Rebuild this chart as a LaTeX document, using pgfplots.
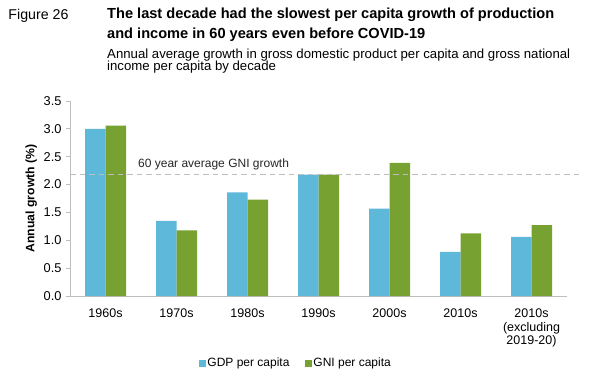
\documentclass[border=0pt]{standalone}
\usepackage{fontspec}
\setmainfont{Liberation Sans}
\usepackage{pgfplots}
\pgfplotsset{compat=1.18}
\definecolor{gdpblue}{RGB}{94,184,218}
\definecolor{gnigreen}{RGB}{119,162,49}
\definecolor{axgray}{RGB}{190,190,190}
\begin{document}
\begin{tikzpicture}[x=1bp,y=1bp]
\path (0,0) rectangle (611,384);
% titles
\node[inner sep=0pt,anchor=base west,font=\fontsize{14.2bp}{16bp}\selectfont] at (8.3,364.5) {Figure 26};
\node[inner sep=0pt,anchor=base west,font=\fontsize{14.6bp}{16bp}\selectfont\bfseries] at (107,365.7) {The last decade had the slowest per capita growth of production};
\node[inner sep=0pt,anchor=base west,font=\fontsize{14.6bp}{16bp}\selectfont\bfseries] at (107,346) {and income in 60 years even before COVID-19};
\node[inner sep=0pt,anchor=base west,font=\fontsize{13.2bp}{13bp}\selectfont] at (107,325.7) {Annual average growth in gross domestic product per capita and gross national};
\node[inner sep=0pt,anchor=base west,font=\fontsize{13.2bp}{13bp}\selectfont] at (107,313.3) {income per capita by decade};
\begin{axis}[
  at={(70bp,88bp)}, anchor=south west,
  scale only axis, width=497bp, height=195bp,
  xmin=-0.5, xmax=6.5, ymin=0, ymax=3.5,
  ybar=0pt, bar width=20.5bp,
  axis x line*=bottom, axis y line*=left,
  axis line style={axgray, line width=0.8pt},
  every tick/.style={axgray, line width=0.8pt},
  ytick={0,0.5,...,3.5},
  xtick={0,...,6},
  xticklabels={1960s,1970s,1980s,1990s,2000s,2010s,{2010s\\(excluding\\2019-20)}},
  xticklabel style={align=center, font=\fontsize{12.5bp}{13.5bp}\selectfont, yshift=-5bp},
  major x tick style={draw=none},
  tick align=outside, ytick pos=left, major tick length=4.5bp,
  yticklabel style={font=\fontsize{12.8bp}{14bp}\selectfont, xshift=-0.5bp, /pgf/number format/.cd, fixed, fixed zerofill, precision=1, assume math mode=true},
  ylabel={\bfseries Annual growth (\%)},
  ylabel style={font=\fontsize{12.2bp}{14bp}\selectfont},
  clip=false,
  legend columns=2,
  legend style={draw=none, at={(0.454,-0.344)}, anchor=center, font=\fontsize{12bp}{14bp}\selectfont,
    nodes={inner xsep=1.5bp},
    /tikz/every even column/.append style={column sep=14bp}},
  legend image code/.code={\fill[#1] (0bp,-3.5bp) rectangle (7bp,3.5bp);},
]
\addplot[fill=gdpblue, draw=none] coordinates {(0,3.00) (1,1.35) (2,1.86) (3,2.18) (4,1.57) (5,0.79) (6,1.06)};
\addplot[fill=gnigreen, draw=none] coordinates {(0,3.06) (1,1.18) (2,1.73) (3,2.18) (4,2.39) (5,1.125) (6,1.27)};
\legend{GDP per capita, GNI per capita}
\addplot[sharp plot, forget plot, axgray, line width=0.9pt, dash pattern=on 5.5bp off 4bp] coordinates {(-0.5,2.19) (6.68,2.19)};
\node[inner sep=0pt, anchor=base west, font=\fontsize{12bp}{14bp}\selectfont, text=black!85] at (axis cs:0.458,2.30) {60 year average GNI growth};
\end{axis}
\end{tikzpicture}
\end{document}
